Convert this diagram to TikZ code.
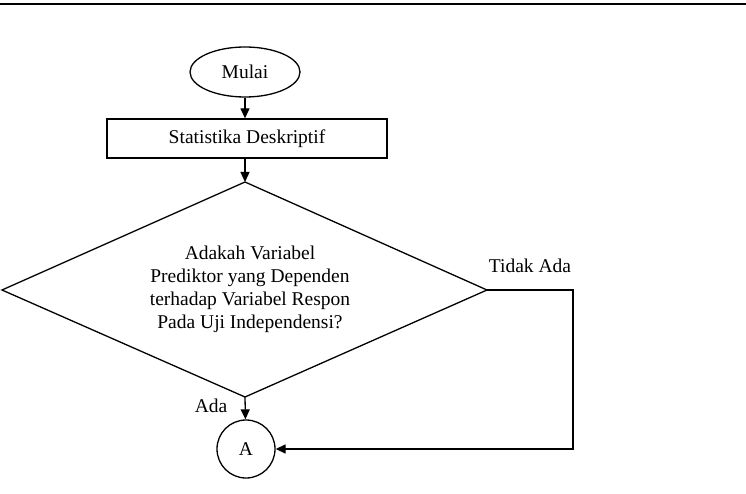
\documentclass[tikz,border=0pt]{standalone}
\usepackage{fontspec}
\setmainfont{Liberation Serif}
\usetikzlibrary{shapes.geometric,arrows.meta}
\begin{document}
\begin{tikzpicture}[x=1pt,y=-1pt,
  every node/.style={font=\fontsize{19.5}{23}\selectfont},
  line/.style={line width=1.3pt},
  arr/.style={line width=1.3pt,-{Triangle[length=10pt,width=9pt]}},
  lbl/.style={inner sep=0pt}]
\useasboundingbox (0,0) rectangle (746,494);
\fill[white] (0,0) rectangle (746,494);
\draw[line width=2pt] (0,4.5) -- (746,4.5);
\node[draw,line width=1.3pt,ellipse,minimum width=110pt,minimum height=50pt,inner sep=0pt] (mulai) at (245,72) {Mulai};
\node[draw,line width=1.3pt,rectangle,minimum width=280pt,minimum height=39pt,inner sep=0pt] (stat) at (247,138.5) {Statistika Deskriptif};
\coordinate (dt) at (245,182);
\coordinate (dl) at (2,290);
\coordinate (dr) at (487,290);
\coordinate (db) at (245,397);
\draw[line,line join=miter] (dt) -- (dr) -- (db) -- (dl) -- cycle;
\node[lbl,align=center] (q) at (250,289) {Adakah Variabel\\Prediktor yang Dependen\\terhadap Variabel Respon\\Pada Uji Independensi?};
\node[draw,line width=1.3pt,circle,minimum size=58pt,inner sep=0pt] (a) at (246,449) {A};
\coordinate (c1) at (573,290);
\coordinate (c2) at (573,449);
\draw[arr] (mulai) -- (stat.north -| mulai);
\draw[arr] (stat.south -| dt) -- (dt);
\draw[arr] (db) -- (a);
\draw[arr] (dr) -- (c1) -- (c2) -- (a);
\node[lbl] (tidak) at (530,266) {Tidak Ada};
\node[lbl] (ada) at (211,406) {Ada};
\end{tikzpicture}
\end{document}
